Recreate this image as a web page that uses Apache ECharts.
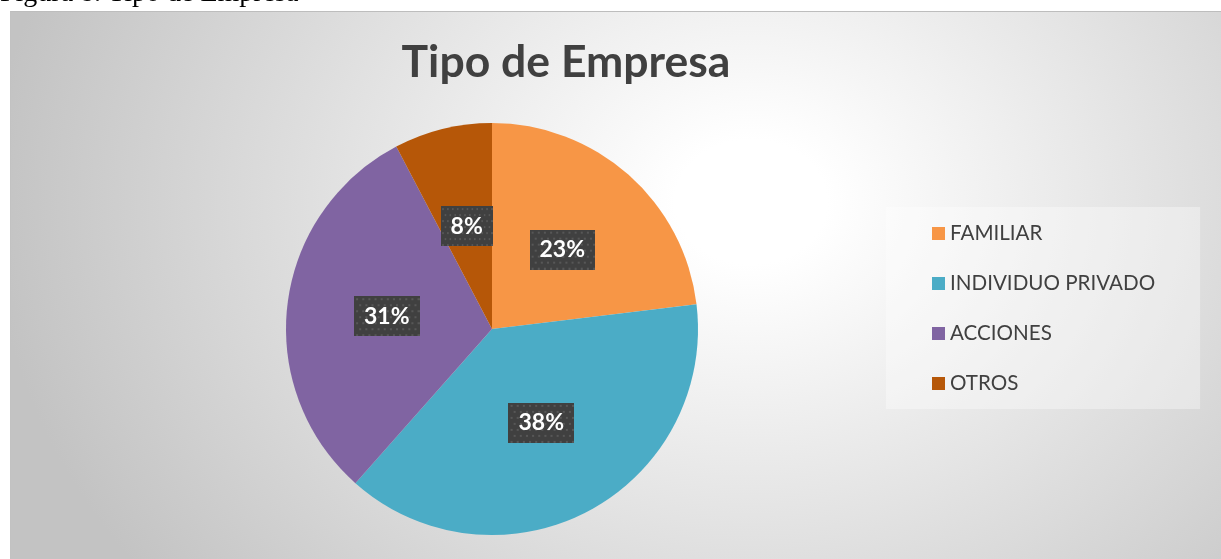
<!DOCTYPE html>
<html>
<head>
<meta charset="utf-8">
<script src="https://cdn.jsdelivr.net/npm/echarts@6/dist/echarts.min.js"></script>
<style>
  html, body { margin: 0; padding: 0; background: #fff; }
  #frame {
    position: absolute; left: 10px; top: 11px; width: 1211px; height: 548px;
    border-top: 1px solid #bdbdbd; border-left: 1px solid #c2c2c2;
    background: radial-gradient(ellipse 760px 620px at 740px 190px, #ffffff 0%, #ffffff 10%, #c3c3c3 100%);
  }
  #main1 { position: absolute; left: 0; top: 0; width: 1221px; height: 559px; }
</style>
</head>
<body>
<div id="frame"></div>
<div id="main1"></div>
<script>
const categories = ["FAMILIAR", "INDIVIDUO PRIVADO", "ACCIONES", "OTROS"];
const values = [3, 5, 4, 1];
const colors = ["#F79646", "#4BACC6", "#8064A2", "#B65708"];

// fondo oscuro punteado de las etiquetas
const dots = document.createElement("canvas");
dots.width = 64;
dots.height = 40;
const ctx = dots.getContext("2d");
ctx.fillStyle = "#404040";
ctx.fillRect(0, 0, 64, 40);
ctx.fillStyle = "#575757";
for (let y = 2, row = 0; y < 40; y += 6, row++) {
  for (let x = (row % 2) * 3 + 2; x < 64; x += 6) {
    ctx.fillRect(x, y, 2, 2);
  }
}

const option = {
  animation: false,
  backgroundColor: "transparent",
  title: {
    text: "Tipo de Empresa",
    left: 561,
    top: 35,
    textAlign: "center",
    textStyle: {
      fontFamily: "Lato",
      fontWeight: "bold",
      fontSize: 44.5,
      color: "#404040",
    },
  },
  graphic: [
    {
      type: "text",
      left: 0,
      top: -20,
      style: {
        text: "Figura 8. Tipo de Empresa",
        font: "28px 'Liberation Serif'",
        fill: "#000",
      },
    },
  ],
  legend: {
    orient: "vertical",
    left: 886,
    top: 207,
    padding: [16, 45, 15, 46],
    backgroundColor: "rgba(255,255,255,0.35)",
    icon: "rect",
    itemWidth: 13,
    itemHeight: 13,
    itemGap: 29,
    selectedMode: false,
    data: categories,
    textStyle: {
      fontFamily: "Lato",
      fontSize: 20.6,
      lineHeight: 20.6,
      color: "#404040",
    },
  },
  series: [
    {
      type: "pie",
      center: [492, 329],
      radius: 206,
      startAngle: 90,
      clockwise: true,
      color: colors,
      itemStyle: { borderWidth: 0 },
      emphasis: { disabled: true },
      label: {
        position: "inside",
        formatter: (p) => Math.round(p.percent) + "%",
        fontFamily: "Lato",
        fontWeight: "bold",
        fontSize: 23,
        lineHeight: 24,
        color: "#fff",
        backgroundColor: { image: dots },
        padding: [8, 10, 8, 10],
        shadowColor: "rgba(0,0,0,0.5)",
        shadowBlur: 8,
        shadowOffsetX: 3,
        shadowOffsetY: 3,
      },
      labelLine: { show: false },
      data: categories.map((name, i) => ({ name: name, value: values[i] })),
    },
  ],
};

const myChart = echarts.init(document.getElementById("main1"));
myChart.setOption(option);
</script>
</body>
</html>
